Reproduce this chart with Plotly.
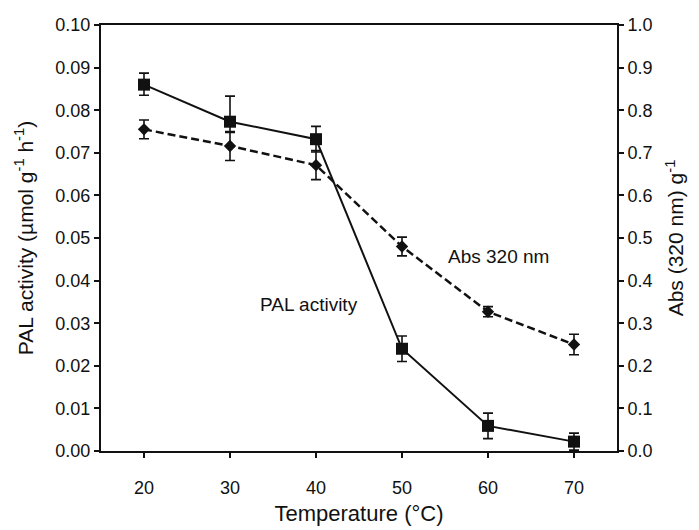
import plotly.graph_objects as go

# Temperature treatments (°C)
temperature = [20, 30, 40, 50, 60, 70]

# PAL activity (µmol g-1 h-1) with standard errors
pal_activity = [0.086, 0.0773, 0.0732, 0.024, 0.0059, 0.0022]
pal_err_plus = [0.0027, 0.006, 0.003, 0.003, 0.003, 0.002]
pal_err_minus = [0.0025, 0.0025, 0.003, 0.003, 0.003, 0.002]

# Absorbance at 320 nm per g with standard errors
abs320 = [0.755, 0.716, 0.671, 0.480, 0.327, 0.250]
abs_err = [0.022, 0.034, 0.034, 0.022, 0.012, 0.024]

left_ticks = [0.00, 0.01, 0.02, 0.03, 0.04, 0.05, 0.06, 0.07, 0.08, 0.09, 0.10]
right_ticks = [0.0, 0.1, 0.2, 0.3, 0.4, 0.5, 0.6, 0.7, 0.8, 0.9, 1.0]
x_ticks = [20, 30, 40, 50, 60, 70]

FONT = "Liberation Sans, Arial, sans-serif"
INK = "#111111"

fig = go.Figure()

fig.add_trace(go.Scatter(
    x=temperature, y=abs320, yaxis="y2", mode="lines+markers",
    line=dict(color=INK, width=2.5, dash="8px,4px"),
    marker=dict(symbol="diamond", size=9.5, color=INK),
    error_y=dict(type="data", array=abs_err, visible=True,
                 color=INK, thickness=1.6, width=5),
    showlegend=False,
))

fig.add_trace(go.Scatter(
    x=temperature, y=pal_activity, mode="lines+markers",
    line=dict(color=INK, width=2),
    marker=dict(symbol="square", size=12, color=INK),
    error_y=dict(type="data", array=pal_err_plus, arrayminus=pal_err_minus,
                 visible=True, color=INK, thickness=1.6, width=5),
    showlegend=False,
))

fig.add_annotation(x=61.2, y=0.0456, text="Abs 320 nm", showarrow=False,
                   font=dict(family=FONT, size=19, color=INK))
fig.add_annotation(x=39.2, y=0.0345, text="PAL activity", showarrow=False,
                   font=dict(family=FONT, size=19, color=INK))

axis_common = dict(
    showgrid=False, zeroline=False, showline=True, linecolor=INK,
    linewidth=2, ticks="outside", ticklen=5, tickwidth=1.5,
    tickcolor=INK, tickfont=dict(family=FONT, size=18, color=INK),
    automargin=False,
)

fig.update_layout(
    width=699, height=530,
    margin=dict(l=101, r=82, t=25, b=79),
    paper_bgcolor="white", plot_bgcolor="white",
    font=dict(family=FONT, color=INK),
    xaxis=dict(
        range=[15, 75], tickvals=x_ticks, mirror=True,
        ticklabelstandoff=14,
        title=dict(text="Temperature (°C)", font=dict(family=FONT, size=22),
                   standoff=9),
        **axis_common,
    ),
    yaxis=dict(
        range=[0, 0.1], tickvals=left_ticks, tickformat=".2f",
        title=dict(text="PAL activity (µmol g<sup>-1</sup> h<sup>-1</sup>)",
                   font=dict(family=FONT, size=21), standoff=16),
        **axis_common,
    ),
    yaxis2=dict(
        range=[0, 1.0], tickvals=right_ticks, tickformat=".1f",
        overlaying="y", side="right",
        title=dict(text="Abs (320 nm) g<sup>-1</sup>",
                   font=dict(family=FONT, size=21), standoff=17),
        **axis_common,
    ),
)

fig.write_html("out.html")
